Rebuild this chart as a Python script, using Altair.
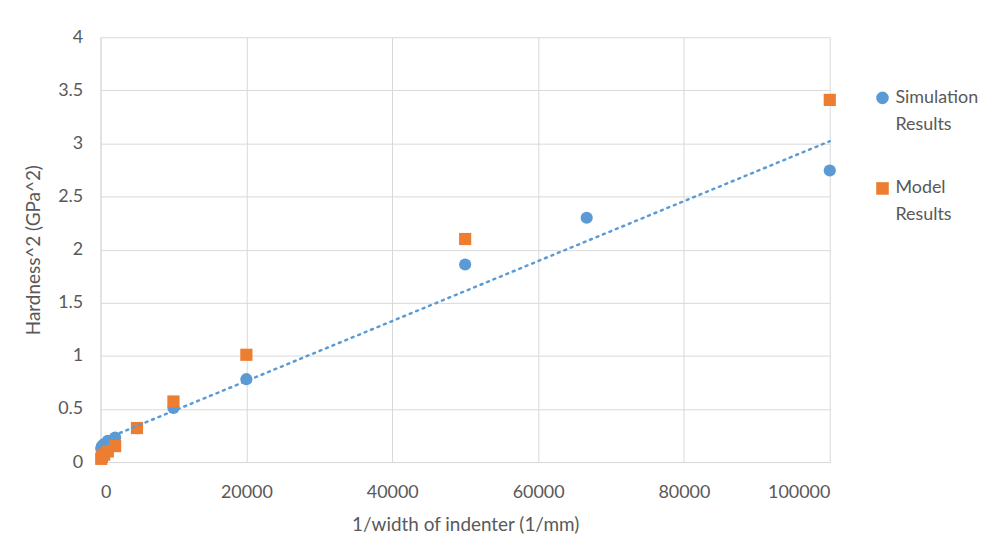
import altair as alt
import pandas as pd

x_vals = [100, 200, 500, 1000, 2000, 5000, 10000, 20000, 50000, 66667, 100000]
sim_y = [0.13, 0.15, 0.17, 0.20, 0.23, 0.32, 0.51, 0.78, 1.86, 2.30, 2.745]
model_x = [100, 200, 500, 1000, 2000, 5000, 10000, 20000, 50000, 100000]
model_y = [0.03, 0.05, 0.07, 0.10, 0.15, 0.32, 0.57, 1.01, 2.10, 3.41]

series = ["Simulation Results", "Model Results"]
x_ticks = [0, 20000, 40000, 60000, 80000, 100000]
y_ticks = [0, 0.5, 1, 1.5, 2, 2.5, 3, 3.5, 4]

rows = []
for xv, yv in zip(x_vals, sim_y):
    rows.append({"x": xv, "y": yv, "s": series[0]})
for xv, yv in zip(model_x, model_y):
    rows.append({"x": xv, "y": yv, "s": series[1]})
df = pd.DataFrame(rows)
sim_df = pd.DataFrame({"x": x_vals, "y": sim_y})

FONT = "Lato"
GRAY = "#595959"

xscale = alt.Scale(domain=[0, 100000], nice=False)
yscale = alt.Scale(domain=[0, 4], nice=False)

points = alt.Chart(df).mark_point(filled=True, opacity=1, size=150).encode(
    x=alt.X("x:Q", scale=xscale,
            axis=alt.Axis(title="1/width of indenter (1/mm)", values=x_ticks,
                          format="d", labelPadding=22, titlePadding=14)),
    y=alt.Y("y:Q", scale=yscale,
            axis=alt.Axis(title="Hardness^2 (GPa^2)", values=y_ticks, format="~g",
                          labelPadding=18, titlePadding=14)),
    color=alt.Color("s:N", scale=alt.Scale(domain=series, range=["#5B9BD5", "#ED7D31"]),
                    legend=alt.Legend(title=None, orient="none", legendX=777, legendY=52,
                                      labelExpr="split(datum.label, ' ')",
                                      labelFont=FONT, labelFontSize=18, labelColor=GRAY,
                                      symbolSize=160, rowPadding=46, labelOffset=4)),
    shape=alt.Shape("s:N", scale=alt.Scale(domain=series, range=["circle", "square"]), legend=None),
)

trend = alt.Chart(sim_df).transform_regression("x", "y", extent=[0, 100000]).mark_line(
    color="#5B9BD5", strokeDash=[2, 5], strokeWidth=2.5, strokeCap="round"
).encode(x=alt.X("x:Q", scale=xscale), y=alt.Y("y:Q", scale=yscale))

chart = alt.layer(points, trend).properties(
    width=733, height=427,
    autosize=alt.AutoSizeParams(type="none"),
    padding={"left": 93, "top": 28, "right": 150, "bottom": 80},
).configure(
    style={"guide-label": {"lineHeight": 27}},
    view=alt.ViewConfig(stroke=None),
    axis=alt.AxisConfig(
        labelFont=FONT, titleFont=FONT, labelFontSize=18, titleFontSize=19,
        labelColor=GRAY, titleColor=GRAY, titleFontWeight="normal",
        gridColor="#D9D9D9", domainColor="#D9D9D9", ticks=False, gridWidth=1,
    ),
)

chart.save("out.html", embed_options={"renderer": "svg", "actions": False})
